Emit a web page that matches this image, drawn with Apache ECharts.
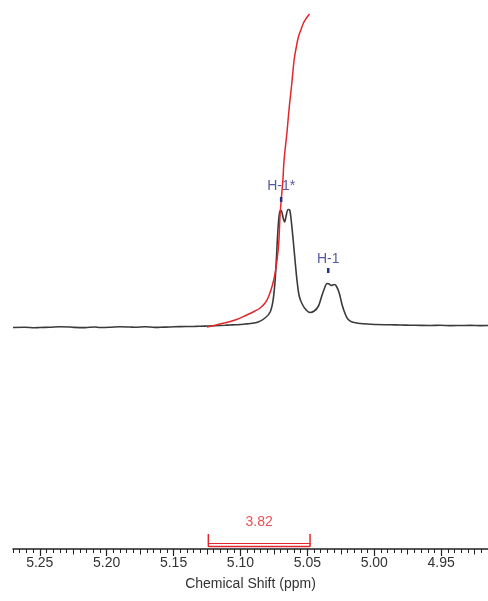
<!DOCTYPE html>
<html>
<head>
<meta charset="utf-8">
<script src="https://cdn.jsdelivr.net/npm/echarts@6/dist/echarts.min.js"></script>
<style>html,body{margin:0;padding:0;background:#fff;}#c{width:488px;height:601px;}</style>
</head>
<body>
<div id="c"></div>
<script>
// Spectrum (ppm, intensity above baseline)
const specPpm = [5.270,5.2612,5.2537,5.250,5.2425,5.2350,5.2275,5.2238,5.2163,5.2088,5.2051,5.1976,5.1901,5.1826,5.1789,5.1714,5.1639,5.1602,5.1527,5.1452,5.1377,5.1340,5.1265,5.1228,5.1190,5.1115,5.1078,5.1040,5.1003,5.0966,5.0928,5.0868,5.0816,5.0778,5.0756,5.0741,5.0730,5.0719,5.0707,5.0696,5.0681,5.0670,5.0659,5.0644,5.0632,5.0621,5.0606,5.0591,5.0576,5.0561,5.0539,5.0509,5.0479,5.0449,5.0419,5.0397,5.0374,5.0352,5.0337,5.0322,5.0299,5.0284,5.0262,5.0240,5.0217,5.0195,5.0165,5.0105,5.0030,4.9993,4.9880,4.9805,4.9731,4.9656,4.9581,4.9506,4.9431,4.9356,4.9281,4.9207,4.9150];
const specInt = [-0.5,-0.2,-0.8,-0.5,-0.3,0.2,0,-0.4,-0.6,0,-0.5,-0.3,0.2,0,-0.2,0.3,-0.4,-0.3,0,0.4,0.5,0.6,0.9,1,1.2,1.7,2,2.2,2.5,3,3.5,5,9,15,27,47,72,99,115,116.5,109,105,111,117.5,117,107,87,65,45,31,23,17,14.5,16,20.5,29,38,43.5,43,41.5,42.5,41,34,22,13,7.5,5,3.5,2.8,2.5,2.2,2,1.8,1.6,1.5,1.7,1.4,1.5,1.6,1.4,1.5];
// Integral curve
const integPpm = [5.125,5.1153,5.1040,5.0953,5.0891,5.0853,5.0816,5.0791,5.0763,5.0741,5.0716,5.0704,5.0683,5.0674,5.0653,5.0636,5.0616,5.0599,5.0584,5.0567,5.0546,5.0529,5.0509,5.0484];
const integVal = [0,3,7,12,16,19,24,30,41,54,80,112,147,167,194,219,244,267,279,290,298,304,308.5,313];
// Peak labels
const peakNames = ['H-1*','H-1'];
const peakPpm = [5.0696,5.0344];
const peakTickTop = [130,59];
const peakTickBottom = [125,54];
const peakLabelY = [141,68];
// Integral region
const integRegion = [5.124,5.048];
const integValueText = '3.82';
// Axis
const tickLabels = [5.25,5.20,5.15,5.10,5.05,5.00,4.95];
const midTicks = [5.225,5.175,5.125,5.075,5.025,4.975,4.925];

const zip = (a,b) => a.map((v,i)=>[v,b[i]]);
const bracketTop = -207, bracketBottom = -219.5, bracketInner = -216.5;
const bracket = [[integRegion[0],bracketTop],[integRegion[0],bracketBottom],[integRegion[1],bracketBottom],[integRegion[1],bracketTop]];
const bracketInnerLine = [[integRegion[0],bracketInner],[integRegion[1],bracketInner]];

const navy = '#2a2f86';
const red = '#e3262b';
const font = 'Liberation Sans, Arial, sans-serif';
const xBase = {type:'value', min:4.915, max:5.270, inverse:true, position:'bottom', splitLine:{show:false}};

const series = [
  {type:'line', data: zip(specPpm,specInt), showSymbol:false, smooth:0.35, lineStyle:{color:'#3a3a3a',width:1.6}, z:2},
  {type:'line', data: zip(integPpm,integVal), showSymbol:false, smooth:0.4, lineStyle:{color:red,width:1.5}, z:3},
  {type:'line', data: bracket, showSymbol:false, lineStyle:{color:red,width:1.5}, z:3},
  {type:'line', data: bracketInnerLine, showSymbol:false, lineStyle:{color:red,width:1}, z:3},
  {type:'scatter', data:[[ (integRegion[0]+integRegion[1])/2, -195, integValueText ]], symbolSize:0,
   label:{show:true, position:'inside', formatter:p=>p.data[2], color:red, fontSize:14, fontFamily:font}},
  {type:'scatter', data: peakNames.map((n,i)=>[peakPpm[i], peakLabelY[i], n]), symbolSize:0,
   label:{show:true, position:'inside', formatter:p=>p.data[2], color:navy, fontSize:14, fontFamily:font}}
];
peakNames.forEach((n,i)=>{
  series.push({type:'line', data:[[peakPpm[i],peakTickTop[i]],[peakPpm[i],peakTickBottom[i]]], showSymbol:false, lineStyle:{color:navy,width:2.5}, z:4});
});

const chart = echarts.init(document.getElementById('c'), null, {renderer:'canvas'});
chart.setOption({
  animation:false,
  backgroundColor:'#fff',
  grid:{left:13, right:0, top:0, bottom:52, containLabel:false},
  xAxis:[
    Object.assign({}, xBase, {interval:0.005,
      axisLine:{show:true, onZero:false, lineStyle:{color:'#222', width:1.5}},
      axisTick:{show:true, length:4, lineStyle:{color:'#222', width:1}},
      axisLabel:{show:false},
      name:'Chemical Shift (ppm)', nameLocation:'middle', nameGap:28,
      nameTextStyle:{color:'#333', fontSize:14, fontFamily:font}}),
    Object.assign({}, xBase, {
      axisLine:{show:false, onZero:false},
      axisTick:{show:true, length:5.5, customValues: midTicks, lineStyle:{color:'#222', width:1}},
      axisLabel:{show:false}}),
    Object.assign({}, xBase, {
      axisLine:{show:false, onZero:false},
      axisTick:{show:true, length:7, customValues: tickLabels, lineStyle:{color:'#222', width:1.2}},
      axisLabel:{show:true, customValues: tickLabels, margin:7, color:'#333', fontSize:14, fontFamily:font,
        formatter:v=>v.toFixed(2)}})
  ],
  yAxis:{type:'value', min:-222, max:327, show:false, splitLine:{show:false}},
  series: series
});
</script>
</body>
</html>
